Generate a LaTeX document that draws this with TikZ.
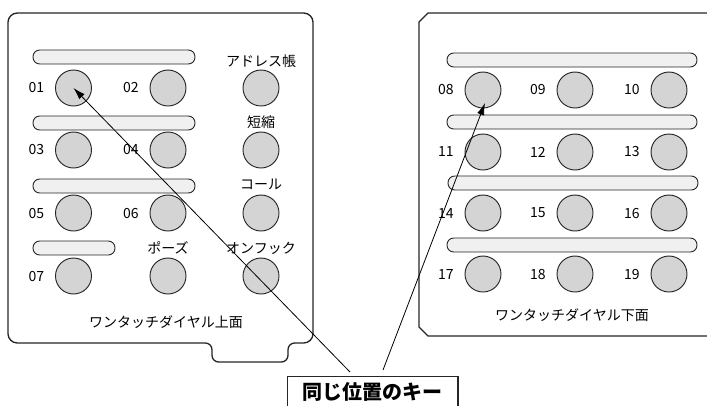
\documentclass[tikz,border=0pt]{standalone}
\usepackage{fontspec}
\setmainfont{Noto Sans CJK JP}
\usetikzlibrary{arrows.meta,positioning}
\definecolor{keygray}{HTML}{D4D4D4}
\definecolor{bargray}{HTML}{F0F0F0}
\tikzset{
  panel/.style={draw=black!85, line width=1pt, fill=white},
  bar/.style={draw=black!85, line width=0.7pt, fill=bargray, rounded corners=5pt},
  keybtn/.style={circle, draw=black!85, line width=0.7pt, fill=keygray, minimum size=27pt, inner sep=0pt},
  lbl/.style={font=\fontsize{10.5}{12}\selectfont, inner sep=0pt},
  pointer/.style={line width=0.6pt, -{Latex[length=9pt,width=5.5pt]}}
}
\begin{document}
\begin{tikzpicture}[x=0.75pt,y=-0.75pt]
    \useasboundingbox (0,0) rectangle (707,405);
    % left panel (upper side)
    \draw[panel] (8,200) [rounded corners=7pt] -- (8,13) -- (313,13) -- (313,343)
        [rounded corners=5pt] -- (288,343) -- (288,362) -- (212,362) -- (212,343)
        [rounded corners=7pt] -- (8,343) -- cycle;
    % right panel (lower side)
    \draw[panel] (419,22) -- (428,13) -- (720,13) -- (720,336) -- (428,336) -- (419,327) -- cycle;
    % bars
    \foreach \xa/\ya/\xb/\yb in {33/50/195/64,33/116/195/130,33/179/195/193,33/241/115/255,
        447/53/697/67,447/115/697/129,448/176/698/190,447/238/697/252}{
        \draw[bar] (\xa,\ya) rectangle (\xb,\yb);
    }
    % keys with numbers
    \foreach \x/\y/\n in {73.5/88/01,168/88/02,73.5/150/03,168/150/04,73.5/213/05,168/213/06,73.5/276/07,
        483/90/08,575/90/09,669/90/10,483/152/11,575/152/12,669/152/13,
        483/213/14,575/213/15,669/213/16,483/274/17,575/274/18,669/274/19}{
        \node[keybtn] (k\n) at (\x,\y) {};
        \node[lbl, left=8pt of k\n] (l\n) {\n};
    }
    % function keys
    \foreach \x/\y/\n/\l/\ty in {261/88/adr/アドレス帳/61,261/150/tan/短縮/122,261/213/call/コール/184,
        168/276/pause/ポーズ/248,261/276/hook/オンフック/248}{
        \node[keybtn] (k\n) at (\x,\y) {};
        \node[lbl] (t\n) at (\x,\ty) {\l};
    }
    \node[lbl] (top) at (166,322) {ワンタッチダイヤル上面};
    \node[lbl] (bottom) at (572,315) {ワンタッチダイヤル下面};
    % caption box
    \node[draw=black!85, line width=1pt, fill=white, minimum width=128pt, minimum height=23pt,
        font=\fontsize{15}{18}\selectfont\bfseries] (key) at (372.5,392) {同じ位置のキー};
    \coordinate (s1) at (350,372);
    \coordinate (s2) at (383,370);
    \coordinate (t08) at (485,103);
    \draw[pointer] (s1) -- (k01.center);
    \draw[pointer] (s2) -- (t08);
\end{tikzpicture}
\end{document}
